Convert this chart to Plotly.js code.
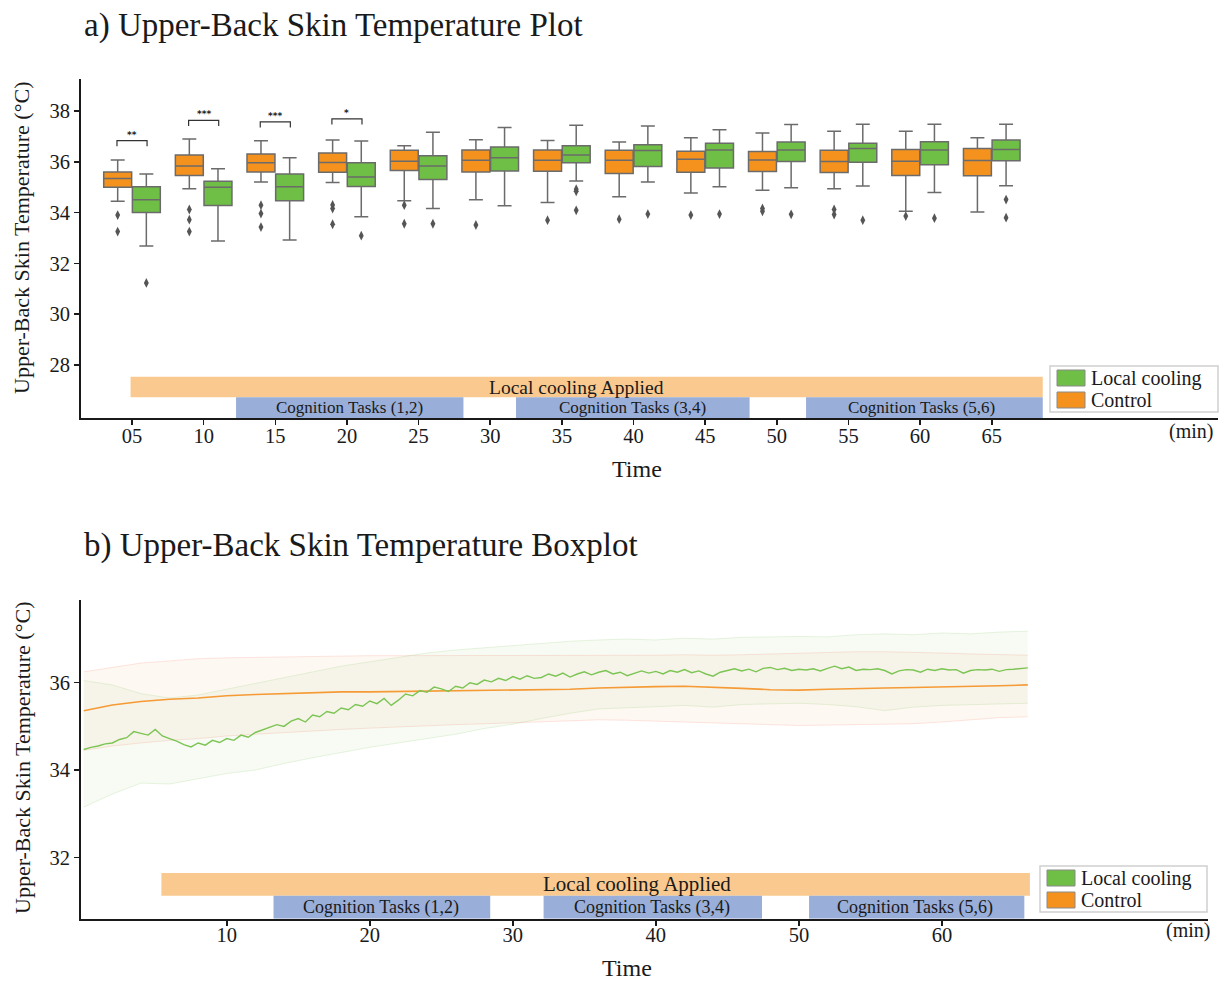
<!DOCTYPE html>
<html>
<head>
<meta charset="utf-8">
<script src="https://cdn.plot.ly/plotly-3.0.1.min.js"></script>
<style>
  html, body { margin: 0; padding: 0; background: #ffffff; }
  #chart { width: 1230px; height: 983px; }
</style>
</head>
<body>
<div id="chart"></div>
<script>
// ---------- Panel a: boxplots every 5 minutes ----------
const times = [5, 10, 15, 20, 25, 30, 35, 40, 45, 50, 55, 60, 65];
const timeLabels = ["05", "10", "15", "20", "25", "30", "35", "40", "45", "50", "55", "60", "65"];

// Control group (orange)
const ctrlUpper  = [36.07, 36.90, 36.83, 36.86, 36.63, 36.87, 36.84, 36.78, 36.95, 37.13, 37.20, 37.20, 36.95];
const ctrlQ3     = [35.60, 36.27, 36.31, 36.35, 36.45, 36.46, 36.46, 36.45, 36.41, 36.40, 36.45, 36.48, 36.52];
const ctrlMedian = [35.34, 35.83, 35.96, 35.97, 36.02, 36.06, 36.06, 36.06, 36.10, 36.07, 36.01, 36.02, 36.05];
const ctrlQ1     = [35.00, 35.46, 35.60, 35.59, 35.66, 35.60, 35.63, 35.54, 35.59, 35.62, 35.58, 35.46, 35.45];
const ctrlLower  = [34.45, 34.94, 35.20, 35.18, 34.47, 34.50, 34.40, 34.62, 34.77, 34.88, 34.94, 34.05, 34.02];
const ctrlOutT   = [5, 5, 10, 10, 10, 15, 15, 15, 20, 20, 20, 25, 25, 30, 35, 40, 45, 50, 50, 55, 55, 60];
const ctrlOutV   = [33.90, 33.25, 34.12, 33.72, 33.25, 34.29, 33.96, 33.43, 34.30, 34.16, 33.54, 34.29, 33.56,
                    33.51, 33.70, 33.74, 33.90, 34.16, 34.05, 34.12, 33.92, 33.86];

// Local cooling group (green)
const coolUpper  = [35.52, 35.73, 36.16, 36.82, 37.16, 37.35, 37.44, 37.41, 37.26, 37.47, 37.48, 37.48, 37.48];
const coolQ3     = [35.02, 35.23, 35.52, 35.96, 36.24, 36.58, 36.63, 36.67, 36.73, 36.78, 36.73, 36.79, 36.86];
const coolMedian = [34.50, 35.00, 35.02, 35.40, 35.83, 36.16, 36.27, 36.44, 36.46, 36.46, 36.52, 36.46, 36.48];
const coolQ1     = [34.00, 34.28, 34.47, 35.03, 35.30, 35.64, 35.96, 35.81, 35.76, 36.01, 35.98, 35.88, 36.04];
const coolLower  = [32.68, 32.88, 32.92, 33.84, 34.16, 34.27, 35.24, 35.20, 35.02, 34.98, 35.05, 34.79, 35.06];
const coolOutT   = [5, 20, 25, 35, 35, 35, 40, 45, 50, 55, 60, 65, 65];
const coolOutV   = [31.23, 33.09, 33.56, 34.92, 34.84, 34.09, 33.94, 33.94, 33.93, 33.70, 33.78, 34.51, 33.80];

// Significance markers between the two groups
const sigTimes  = [5, 10, 15, 20];
const sigLabels = ["**", "***", "***", "*"];
const sigLevels = [36.83, 37.63, 37.57, 37.69];

// Protocol phases (minutes)
const coolingSpanA = [4.9, 68.56];
const taskSpansA   = [[12.26, 28.13], [31.8, 48.1], [52.04, 68.56]];
const taskLabels   = ["Cognition Tasks (1,2)", "Cognition Tasks (3,4)", "Cognition Tasks (5,6)"];
const taskLabelXA  = [20.2, 39.9, 60.1];
const coolingLabelXA = 36.0;

// ---------- Panel b: continuous mean with spread ----------
// Local cooling mean, sampled every 0.5 min from 0 to 66 min
const coolMean = [
  34.47, 34.52, 34.55, 34.60, 34.62, 34.70, 34.74, 34.88, 34.84, 34.80,
  34.93, 34.78, 34.72, 34.66, 34.58, 34.53, 34.62, 34.57, 34.68, 34.63,
  34.72, 34.68, 34.80, 34.75, 34.86, 34.92, 34.98, 35.04, 35.00, 35.12,
  35.18, 35.10, 35.26, 35.22, 35.34, 35.30, 35.42, 35.38, 35.50, 35.46,
  35.58, 35.52, 35.64, 35.48, 35.60, 35.74, 35.70, 35.82, 35.78, 35.90,
  35.86, 35.80, 35.92, 35.88, 36.00, 35.96, 36.06, 36.02, 36.10, 36.05,
  36.14, 36.08, 36.16, 36.10, 36.12, 36.20, 36.15, 36.22, 36.13, 36.20,
  36.25, 36.18, 36.24, 36.28, 36.20, 36.24, 36.16, 36.22, 36.27, 36.22,
  36.26, 36.20, 36.28, 36.24, 36.30, 36.23, 36.27, 36.20, 36.15, 36.24,
  36.28, 36.32, 36.27, 36.31, 36.25, 36.33, 36.35, 36.30, 36.33, 36.28,
  36.31, 36.29, 36.32, 36.27, 36.33, 36.38, 36.32, 36.36, 36.28, 36.31,
  36.30, 36.32, 36.28, 36.20, 36.27, 36.30, 36.29, 36.24, 36.31, 36.28,
  36.32, 36.29, 36.30, 36.22, 36.28, 36.30, 36.29, 36.31, 36.26, 36.30,
  36.31, 36.33, 36.34
];
// Spread envelopes and control mean, sampled every 2 min from 0 to 66 min
const coolHigh = [36.05, 35.95, 35.75, 35.65, 35.72, 35.85, 35.98, 36.12, 36.25, 36.38, 36.48, 36.58,
                  36.68, 36.75, 36.80, 36.84, 36.90, 36.95, 36.98, 37.00, 36.98, 37.02, 37.00, 37.04,
                  37.05, 37.06, 37.05, 37.10, 37.12, 37.10, 37.14, 37.12, 37.16, 37.18];
const coolLow  = [33.15, 33.45, 33.70, 33.68, 33.80, 33.92, 34.00, 34.15, 34.28, 34.40, 34.52, 34.62,
                  34.72, 34.82, 34.95, 35.05, 35.18, 35.30, 35.40, 35.42, 35.45, 35.48, 35.44, 35.50,
                  35.52, 35.53, 35.50, 35.45, 35.36, 35.44, 35.48, 35.50, 35.52, 35.53];
const ctrlMean = [35.36, 35.49, 35.57, 35.62, 35.65, 35.70, 35.73, 35.75, 35.77, 35.79, 35.79, 35.80,
                  35.81, 35.81, 35.82, 35.83, 35.84, 35.85, 35.88, 35.90, 35.91, 35.92, 35.90, 35.87,
                  35.84, 35.83, 35.85, 35.87, 35.88, 35.89, 35.90, 35.91, 35.93, 35.95];
const ctrlHigh = [36.25, 36.35, 36.45, 36.50, 36.55, 36.57, 36.58, 36.60, 36.61, 36.62, 36.62, 36.62,
                  36.62, 36.62, 36.62, 36.62, 36.62, 36.62, 36.62, 36.63, 36.63, 36.64, 36.63, 36.64,
                  36.66, 36.68, 36.70, 36.71, 36.71, 36.70, 36.68, 36.66, 36.64, 36.63];
const ctrlLow  = [34.45, 34.55, 34.62, 34.68, 34.72, 34.78, 34.82, 34.86, 34.90, 34.93, 34.96, 34.99,
                  35.02, 35.04, 35.06, 35.08, 35.10, 35.12, 35.15, 35.14, 35.12, 35.10, 35.08, 35.05,
                  35.03, 35.02, 35.03, 35.04, 35.04, 35.06, 35.10, 35.15, 35.20, 35.22];

const coolingSpanB = [5.43, 66.15];
const taskSpansB   = [[13.27, 28.42], [32.15, 47.42], [50.71, 65.76]];
const taskLabelXB  = [20.75, 39.75, 58.1];
const coolingLabelXB = 38.7;

// Sample grids for panel b
const fineTimes = coolMean.map((_, i) => i * 0.5);
const coarseTimes = coolHigh.map((_, i) => i * 2);

// ---------- Styling ----------
const ORANGE = "#F5921E";
const GREEN = "#6FBE45";
const BOX_LINE = "#6b6b6b";
const BAND_ORANGE = "#F9C98F";
const BAND_BLUE = "#99AED8";
const SERIF = "Liberation Serif, Times New Roman, serif";
const INK = "#1a1a1a";

const W = 1230, H = 983;
const px = x => x / W;
const py = y => 1 - y / H;

// Axis ranges
const xRangeA = [1.44, 80.79], yRangeA = [25.91, 39.26];
const xRangeB = [-0.19, 78.6], yRangeB = [30.594, 37.895];

const traces = [];

// Boxes: control sits left of each time mark, local cooling right of it
const boxCommon = {
  type: "box", xaxis: "x", yaxis: "y", width: 1.95, whiskerwidth: 0.5,
  boxpoints: false, showlegend: false, hoverinfo: "skip",
  line: { color: BOX_LINE, width: 1.5 }
};
traces.push(Object.assign({}, boxCommon, {
  name: "Control", x: times.map(t => t - 1),
  q1: ctrlQ1, median: ctrlMedian, q3: ctrlQ3, lowerfence: ctrlLower, upperfence: ctrlUpper,
  fillcolor: ORANGE
}));
traces.push(Object.assign({}, boxCommon, {
  name: "Local cooling", x: times.map(t => t + 1),
  q1: coolQ1, median: coolMedian, q3: coolQ3, lowerfence: coolLower, upperfence: coolUpper,
  fillcolor: GREEN
}));

const outlierMarker = { symbol: "diamond-tall", size: 7, color: "#555555", line: { width: 0 } };
traces.push({
  type: "scatter", mode: "markers", xaxis: "x", yaxis: "y", showlegend: false, hoverinfo: "skip",
  x: ctrlOutT.map(t => t - 1), y: ctrlOutV, marker: outlierMarker
});
traces.push({
  type: "scatter", mode: "markers", xaxis: "x", yaxis: "y", showlegend: false, hoverinfo: "skip",
  x: coolOutT.map(t => t + 1), y: coolOutV, marker: outlierMarker
});

// Panel b: spread envelopes (lower edge, then upper edge filled down to it)
function envelope(xs, low, high, edge, fill) {
  traces.push({
    type: "scatter", mode: "lines", xaxis: "x2", yaxis: "y2", x: xs, y: low,
    line: { color: edge, width: 1 }, showlegend: false, hoverinfo: "skip"
  });
  traces.push({
    type: "scatter", mode: "lines", xaxis: "x2", yaxis: "y2", x: xs, y: high,
    line: { color: edge, width: 1 }, fill: "tonexty", fillcolor: fill,
    showlegend: false, hoverinfo: "skip"
  });
}
envelope(coarseTimes, ctrlLow, ctrlHigh, "rgba(245,140,120,0.22)", "rgba(247,160,90,0.07)");
envelope(coarseTimes, coolLow, coolHigh, "rgba(150,205,120,0.22)", "rgba(140,200,100,0.07)");

traces.push({
  type: "scatter", mode: "lines", xaxis: "x2", yaxis: "y2", x: coarseTimes, y: ctrlMean,
  line: { color: "#F59A35", width: 1.6 }, name: "Control", showlegend: false, hoverinfo: "skip"
});
traces.push({
  type: "scatter", mode: "lines", xaxis: "x2", yaxis: "y2", x: fineTimes, y: coolMean,
  line: { color: "#7CC454", width: 1.4 }, name: "Local cooling", showlegend: false, hoverinfo: "skip"
});

// ---------- Shapes & annotations ----------
const shapes = [];
const annotations = [];

function phaseBands(xa, ya, yRange, coolSpan, coolTop, coolBottom, spans) {
  shapes.push({ type: "rect", xref: xa, yref: ya, x0: coolSpan[0], x1: coolSpan[1],
    y0: coolBottom, y1: coolTop, fillcolor: BAND_ORANGE, line: { width: 0 }, layer: "below" });
  spans.forEach(s => shapes.push({ type: "rect", xref: xa, yref: ya, x0: s[0], x1: s[1],
    y0: yRange[0], y1: coolBottom, fillcolor: BAND_BLUE, line: { width: 0 }, layer: "below" }));
}
phaseBands("x", "y", yRangeA, coolingSpanA, 27.53, 26.73, taskSpansA);
phaseBands("x2", "y2", yRangeB, coolingSpanB, 31.64, 31.12, taskSpansB);

const dataText = (xa, ya, x, y, text, size) => ({
  xref: xa, yref: ya, x: x, y: y, xanchor: "center", yanchor: "middle",
  text: text, showarrow: false, font: { family: SERIF, size: size, color: INK }
});
annotations.push(dataText("x", "y", coolingLabelXA, (27.53 + 26.73) / 2, "Local cooling Applied", 19.5));
taskLabels.forEach((t, i) => annotations.push(
  dataText("x", "y", taskLabelXA[i], (26.73 + yRangeA[0]) / 2, t, 17)));
annotations.push(dataText("x2", "y2", coolingLabelXB, (31.64 + 31.12) / 2, "Local cooling Applied", 21));
taskLabels.forEach((t, i) => annotations.push(
  dataText("x2", "y2", taskLabelXB[i], (31.12 + yRangeB[0]) / 2, t, 18)));

// Significance brackets
sigTimes.forEach((t, i) => {
  const top = sigLevels[i], foot = top - 0.22;
  shapes.push({ type: "path", xref: "x", yref: "y",
    path: `M ${t - 1.05},${foot} L ${t - 1.05},${top} L ${t + 1.05},${top} L ${t + 1.05},${foot}`,
    line: { color: "#333333", width: 1.2 } });
  annotations.push({ xref: "x", yref: "y", x: t, y: top, xanchor: "center", yanchor: "bottom", yshift: -1,
    text: "<b>" + sigLabels[i] + "</b>", showarrow: false,
    font: { family: "DejaVu Sans", size: 9, color: "#222" } });
});

// Titles and axis labels (positions in page pixels)
const txt = (x, y, text, size, extra) => Object.assign({
  xref: "paper", yref: "paper", x: px(x), y: py(y), xanchor: "center", yanchor: "middle",
  text: text, showarrow: false, font: { family: SERIF, size: size, color: INK }
}, extra || {});
annotations.push(txt(82, 25, "a) Upper-Back Skin Temperature Plot", 33, { xanchor: "left" }));
annotations.push(txt(82, 545, "b) Upper-Back Skin Temperature Boxplot", 33, { xanchor: "left" }));
annotations.push(txt(22, 238, "Upper-Back Skin Temperature (°C)", 22, { textangle: -90 }));
annotations.push(txt(22, 758, "Upper-Back Skin Temperature (°C)", 22, { textangle: -90 }));
annotations.push(txt(637, 469, "Time", 24));
annotations.push(txt(627, 968, "Time", 24));
annotations.push(txt(1191, 432, "(min)", 20));
annotations.push(txt(1188, 930, "(min)", 20));

// Legend boxes (one per panel)
function legendBox(x0, y0, x1, y1) {
  shapes.push({ type: "rect", xref: "paper", yref: "paper", x0: px(x0), x1: px(x1), y0: py(y1), y1: py(y0),
    fillcolor: "rgba(255,255,255,0.9)", line: { color: "#d0d0d0", width: 1.5 } });
  const entries = [["Local cooling", GREEN], ["Control", ORANGE]];
  entries.forEach((e, i) => {
    const cy = y0 + 12 + i * 22;
    shapes.push({ type: "rect", xref: "paper", yref: "paper", x0: px(x0 + 7), x1: px(x0 + 35),
      y0: py(cy + 8), y1: py(cy - 8), fillcolor: e[1], line: { color: "#8a8a8a", width: 1 } });
    annotations.push(txt(x0 + 39, cy, e[0], 20, { xanchor: "left" }));
  });
}
legendBox(1050, 366, 1218, 412);
legendBox(1040, 866, 1207, 912);

const axisStyle = {
  showline: true, linecolor: INK, linewidth: 2, ticks: "outside", ticklen: 5, tickwidth: 1.5,
  tickcolor: INK, showgrid: false, zeroline: false, fixedrange: true,
  tickfont: { family: SERIF, size: 20.5, color: INK }
};

const layout = {
  width: W, height: H,
  margin: { l: 0, r: 0, t: 0, b: 0 },
  paper_bgcolor: "#ffffff", plot_bgcolor: "rgba(0,0,0,0)",
  showlegend: false,
  boxmode: "overlay",
  xaxis: Object.assign({}, axisStyle, { domain: [px(81), px(1218)], range: xRangeA, anchor: "y",
    tickmode: "array", tickvals: times, ticktext: timeLabels, ticklabelstandoff: -7 }),
  yaxis: Object.assign({}, axisStyle, { domain: [py(418), py(79)], range: yRangeA, anchor: "x",
    tickmode: "array", tickvals: [28, 30, 32, 34, 36, 38] }),
  xaxis2: Object.assign({}, axisStyle, { domain: [px(81), px(1208)], range: xRangeB, anchor: "y2",
    tickmode: "array", tickvals: [10, 20, 30, 40, 50, 60], ticklabelstandoff: -8 }),
  yaxis2: Object.assign({}, axisStyle, { domain: [py(918.7), py(600)], range: yRangeB, anchor: "x2",
    tickmode: "array", tickvals: [32, 34, 36] }),
  shapes: shapes,
  annotations: annotations
};

Plotly.newPlot("chart", traces, layout, { displayModeBar: false, staticPlot: true });
</script>
</body>
</html>
